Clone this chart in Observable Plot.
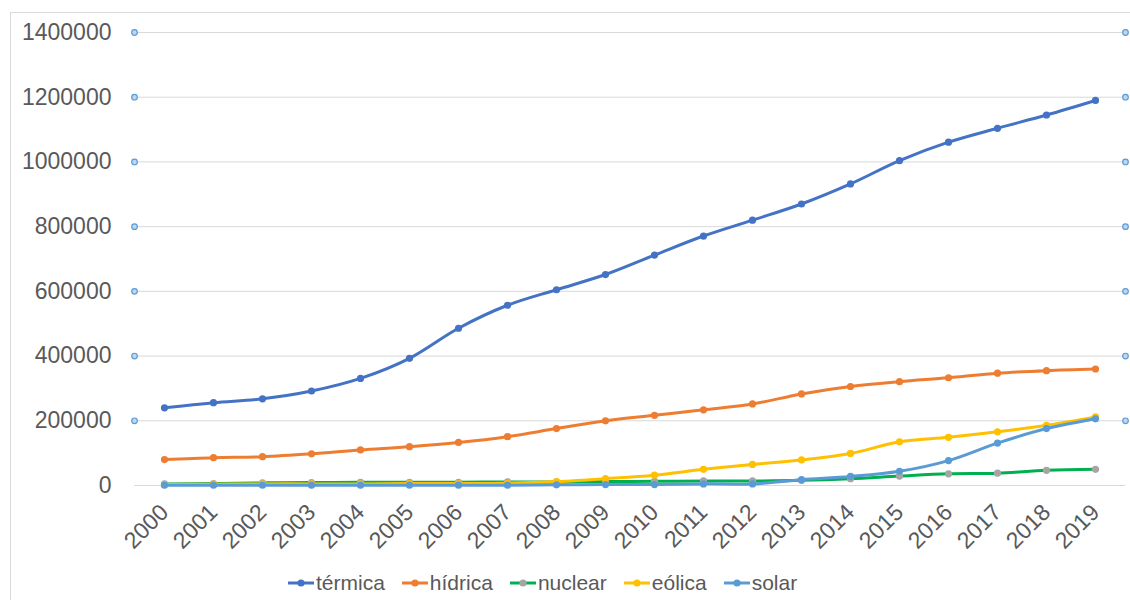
<!DOCTYPE html>
<html>
<head>
<meta charset="utf-8">
<script src="https://cdn.jsdelivr.net/npm/d3@7"></script>
<script src="https://cdn.jsdelivr.net/npm/@observablehq/plot@0.6"></script>
<style>
  html, body { margin: 0; padding: 0; background: #fff; }
  #wrap { position: relative; width: 1130px; height: 600px; overflow: hidden; font-family: "Liberation Sans", Arial, sans-serif; }
  #frame { position: absolute; left: 10px; top: 12px; width: 1200px; height: 700px; border: 1px solid #d9d9d9; box-sizing: border-box; }
  #chart { position: absolute; left: 0; top: 0; }
  #legend { position: absolute; left: 288px; top: 571px; display: flex; align-items: center; font-size: 21px; color: #595959; }
  #legend .item { display: flex; align-items: center; margin-right: 17px; }
  #legend svg { margin-right: 2px; }
</style>
</head>
<body>
<div id="wrap">
  <div id="frame"></div>
  <div id="chart"></div>
  <div id="legend"></div>
</div>
<script>
const years = ["2000","2001","2002","2003","2004","2005","2006","2007","2008","2009","2010","2011","2012","2013","2014","2015","2016","2017","2018","2019"];
const termica = [240000,256000,268000,292000,331000,393000,486000,557000,605000,652000,712000,771000,820000,870000,932000,1004000,1061000,1104000,1145000,1190000];
const hidrica = [80000,86000,89000,98000,110000,120000,133000,151000,176000,200000,217000,234000,252000,283000,306000,321000,333000,347000,355000,360000];
const nuclear = [5000,6000,8000,9000,10000,10000,10000,11000,11000,12000,13000,14000,14000,16000,21000,29000,36000,38000,47000,50000];
const eolica = [3000,4000,5000,5000,5000,6000,6000,7000,12000,21000,32000,50000,65000,79000,99000,135000,149000,166000,186000,212000];
const solar = [1000,1000,1000,1000,1000,1000,1000,1000,2000,3000,3000,5000,5000,18000,28000,44000,77000,131000,176000,206000];
const seriesNames = ["térmica","hídrica","nuclear","eólica","solar"];
const lineColors = ["#4472c4","#ed7d31","#00b050","#ffc000","#5b9bd5"];
const markerColors = ["#4472c4","#ed7d31","#a5a5a5","#ffc000","#5b9bd5"];
const yTicks = [0,200000,400000,600000,800000,1000000,1200000,1400000];

const allValues = [termica, hidrica, nuclear, eolica, solar];

const marks = [
  Plot.gridY(yTicks, {stroke: "#d9d9d9", strokeOpacity: 1, strokeWidth: 1}),
  Plot.axisY(yTicks, {tickSize: 0, tickPadding: 23, tickFormat: d => String(d), fontSize: 23, fill: "#595959"}),
  Plot.axisX({tickSize: 0, tickRotate: -45, tickPadding: 23, fontSize: 23, fill: "#595959"})
];
allValues.forEach((vals, i) => {
  const data = years.map((y, j) => ({year: y, value: vals[j]}));
  marks.push(Plot.line(data, {x: "year", y: "value", stroke: lineColors[i], strokeWidth: 3, curve: "catmull-rom"}));
  marks.push(Plot.dot(data, {x: "year", y: "value", r: 3.6, fill: markerColors[i], stroke: "none"}));
});
const circ = yTicks.filter(d => d > 0);
marks.push(Plot.dot(circ, {y: d => d, frameAnchor: "left", r: 2.8, fill: "#bdd7ee", stroke: "#5b9bd5", strokeWidth: 1.2}));
marks.push(Plot.dot(circ, {y: d => d, frameAnchor: "right", r: 2.8, fill: "#bdd7ee", stroke: "#5b9bd5", strokeWidth: 1.2}));

const chart = Plot.plot({
  width: 1130,
  height: 560,
  marginLeft: 134,
  marginRight: 5,
  marginTop: 32,
  marginBottom: 75,
  style: {fontFamily: "'Liberation Sans', Arial, sans-serif", color: "#595959", background: "transparent"},
  x: {type: "point", domain: years, padding: 0.5, label: null},
  y: {domain: [0, 1400000], label: null},
  marks
});
document.getElementById("chart").appendChild(chart);

const legend = document.getElementById("legend");
seriesNames.forEach((name, i) => {
  const item = document.createElement("div");
  item.className = "item";
  item.innerHTML = `<svg width="26" height="12"><line x1="0" y1="6" x2="26" y2="6" stroke="${lineColors[i]}" stroke-width="3"/><circle cx="13" cy="6" r="3.6" fill="${markerColors[i]}"/></svg><span>${name}</span>`;
  legend.appendChild(item);
});
</script>
</body>
</html>
